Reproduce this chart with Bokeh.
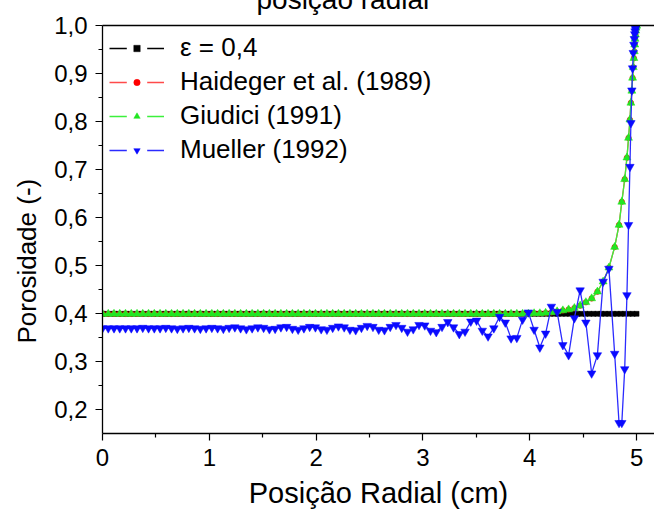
import numpy as np
from bokeh.plotting import figure
from bokeh.models import (Range1d, FixedTicker, CustomJSTickFormatter, Legend,
                          LegendItem, LinearAxis, Title)
from bokeh.embed import file_html
from bokeh.resources import INLINE

FONT = "Liberation Sans"

# ---------------- data ----------------
# radial grid shared by the three correlations
x_uniform = [round(float(v), 4) for v in np.linspace(0.0, 4.795, 90)]
x_wall = [4.836, 4.862, 4.889, 4.910, 4.925, 4.938, 4.947, 4.956, 4.963, 4.969,
          4.975, 4.979, 4.983, 4.986, 4.989, 4.992, 4.995, 4.998, 5.000]
x_grid = x_uniform + x_wall

# constant porosity line
eps_x = [round(float(v), 4) for v in np.linspace(0.0, 5.0, 137)]
eps_y = [0.4] * len(eps_x)

haideger_y = [0.400] * 75 + \
    [0.401, 0.401, 0.402, 0.403, 0.405, 0.407, 0.409, 0.412, 0.417,
     0.424, 0.432, 0.446, 0.467, 0.496, 0.539] + \
    [0.585, 0.633, 0.680, 0.725, 0.766, 0.804, 0.839, 0.864, 0.891, 0.913,
     0.932, 0.946, 0.960, 0.972, 0.981, 0.989, 0.995, 0.999, 1.000]
giudici_y = [0.400] * 75 + \
    [0.401, 0.401, 0.402, 0.403, 0.405, 0.407, 0.409, 0.412, 0.417,
     0.424, 0.432, 0.446, 0.467, 0.496, 0.539] + \
    [0.585, 0.633, 0.680, 0.725, 0.766, 0.804, 0.839, 0.864, 0.891, 0.913,
     0.932, 0.946, 0.960, 0.972, 0.981, 0.989, 0.995, 0.999, 1.000]

mueller_y = [
    0.370, 0.370, 0.370, 0.370, 0.370, 0.370, 0.370, 0.371, 0.370, 0.370,
    0.370, 0.371, 0.370, 0.369, 0.370, 0.371, 0.370, 0.369, 0.370, 0.371,
    0.370, 0.369, 0.371, 0.372, 0.370, 0.368, 0.370, 0.372, 0.371, 0.368,
    0.369, 0.372, 0.373, 0.369, 0.367, 0.370, 0.373, 0.372, 0.368, 0.367,
    0.371, 0.374, 0.372, 0.367, 0.366, 0.371, 0.375, 0.373, 0.367,
    0.366, 0.373, 0.377, 0.371, 0.363, 0.368, 0.377, 0.376, 0.365, 0.362,
    0.373, 0.383, 0.372, 0.358, 0.363, 0.384, 0.386, 0.365, 0.353, 0.370,
    0.394, 0.382, 0.349, 0.350, 0.388, 0.403, 0.367, 0.330, 0.359, 0.415,
    0.404, 0.335, 0.314, 0.391, 0.449, 0.382, 0.276, 0.314, 0.467, 0.494,
    0.317,
    0.173, 0.173, 0.285, 0.439, 0.585, 0.706, 0.797, 0.865, 0.911, 0.943,
    0.960, 0.972, 0.982, 0.988, 0.993, 0.996, 0.998, 0.999, 1.000]

labels = ["\u03b5 = 0,4", "Haideger et al. (1989)", "Giudici (1991)", "Mueller (1992)"]
x_ticks = [0, 1, 2, 3, 4, 5]
x_minor = [0.5, 1.5, 2.5, 3.5, 4.5]
y_ticks = [0.2, 0.3, 0.4, 0.5, 0.6, 0.7, 0.8, 0.9, 1.0]
y_minor = [0.15, 0.25, 0.35, 0.45, 0.55, 0.65, 0.75, 0.85, 0.95]

# ---------------- figure ----------------
MT = 30
p = figure(width=654, height=513 + MT,
           x_range=Range1d(0, 5.168), y_range=Range1d(0.151, 1.0),
           output_backend="svg", toolbar_location=None,
           min_border_left=99, min_border_right=0,
           min_border_top=24 + MT, min_border_bottom=80,
           margin=(-MT, 0, 0, 0))
p.outline_line_color = None
p.xgrid.visible = False
p.ygrid.visible = False
p.background_fill_color = "white"

for ax in (p.xaxis[0], p.yaxis[0]):
    ax.axis_line_color = "black"
    ax.axis_line_width = 1.3
    ax.major_tick_line_color = "black"
    ax.minor_tick_line_color = "black"
    ax.major_tick_line_width = 1.2
    ax.minor_tick_line_width = 1.2
    ax.major_tick_in = 0
    ax.major_tick_out = 7
    ax.minor_tick_in = 0
    ax.minor_tick_out = 4
    ax.major_label_text_font = FONT
    ax.major_label_text_font_size = "24px"
    ax.major_label_text_color = "black"

p.xaxis[0].ticker = FixedTicker(ticks=x_ticks, minor_ticks=x_minor)
p.yaxis[0].ticker = FixedTicker(ticks=y_ticks, minor_ticks=y_minor)
p.yaxis[0].formatter = CustomJSTickFormatter(code="return tick.toFixed(1).replace('.', ',');")
p.xaxis[0].major_label_standoff = 8
p.yaxis[0].major_label_standoff = 8

p.xaxis[0].axis_label = "Posição Radial (cm)"
p.xaxis[0].axis_label_text_font = FONT
p.xaxis[0].axis_label_text_font_size = "29px"
p.xaxis[0].axis_label_text_font_style = "normal"
p.xaxis[0].axis_label_text_color = "black"
p.xaxis[0].axis_label_standoff = 8

top_axis = LinearAxis(ticker=FixedTicker(ticks=[]), major_tick_out=0, minor_tick_out=0,
                      major_label_text_font_size="0px", axis_line_color="black",
                      axis_line_width=1.3)
p.add_layout(top_axis, "above")

p.add_layout(Title(text="posição radial", align="left", offset=154, standoff=22,
                   text_font=FONT, text_font_size="28px", text_font_style="normal",
                   text_color="black"), "above")
p.add_layout(Title(text="Porosidade (-)", align="left", offset=90, standoff=19,
                   text_font=FONT, text_font_size="26px", text_font_style="normal",
                   text_color="black"), "left")

# ---------------- series ----------------
series = [
    (eps_x, eps_y, "black", "black", "square", 5),
    (x_grid, haideger_y, "#ff4a4a", "#ff0000", "circle", 5.5),
    (x_grid, giudici_y, "#3cf03c", "#22e622", "triangle", 8),
    (x_grid, mueller_y, "#2b2bff", "#0a0aff", "inverted_triangle", 8.5),
]

items = []
for (xs, ys, lc, mc, mk, sz), lab in zip(series, labels):
    lr = p.line(xs, ys, line_color=lc, line_width=1.3)
    mr = p.scatter(xs, ys, marker=mk, size=sz, fill_color=mc, line_color=mc, line_width=0.5)
    # white gap around the legend marker (its only point lies outside the visible ranges)
    gap = p.scatter([-1.0], [-1.0], marker="dash", size=6, line_color="white",
                    line_width=14, line_cap="square")
    items.append(LegendItem(label=lab, renderers=[lr, gap, mr]))

legend = Legend(items=items, location="top_left", border_line_color=None,
                background_fill_alpha=0, label_text_font=FONT,
                label_text_font_size="26px", label_text_color="black",
                glyph_width=55, glyph_height=16, label_height=16,
                spacing=3, padding=5, margin=7, label_standoff=16)
p.add_layout(legend)

open("out.html", "w").write(file_html(p, INLINE))
